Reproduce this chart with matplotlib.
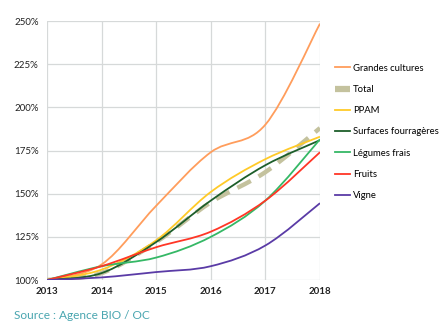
import matplotlib
matplotlib.use("Agg")
import matplotlib.pyplot as plt
import numpy as np
from matplotlib.path import Path
from matplotlib.patches import PathPatch
from matplotlib.lines import Line2D
from matplotlib.ticker import FuncFormatter

# Evolution des surfaces bio par filiere (base 100% en 2013)
years = [2013, 2014, 2015, 2016, 2017, 2018]

grandes_cultures = [1.00, 1.09, 1.43, 1.74, 1.90, 2.485]
total = [1.00, 1.04, 1.22, 1.45, 1.625, 1.88]
ppam = [1.00, 1.06, 1.23, 1.51, 1.70, 1.83]
surfaces_fourrageres = [1.00, 1.04, 1.22, 1.46, 1.665, 1.81]
legumes_frais = [1.00, 1.08, 1.13, 1.25, 1.46, 1.815]
fruits = [1.00, 1.08, 1.19, 1.28, 1.46, 1.74]
vigne = [1.00, 1.015, 1.046, 1.08, 1.20, 1.445]

series = [
    ("Grandes cultures", grandes_cultures, "#ff9d5c"),
    ("Total", total, "#c4c29e"),
    ("PPAM", ppam, "#ffca28"),
    ("Surfaces fourragères", surfaces_fourrageres, "#1d5e2a"),
    ("Légumes frais", legumes_frais, "#35b866"),
    ("Fruits", fruits, "#ff3626"),
    ("Vigne", vigne, "#5a3ba6"),
]

plt.rcParams["font.family"] = ["Lato", "DejaVu Sans"]


def smooth_path(x, y):
    # cubic bezier segments through every point (spreadsheet-style smoothed line)
    x = np.asarray(x, float)
    y = np.asarray(y, float)
    px = np.concatenate([[x[0]], x, [x[-1]]])
    py = np.concatenate([[y[0]], y, [y[-1]]])
    verts = [(x[0], y[0])]
    codes = [Path.MOVETO]
    for i in range(len(x) - 1):
        j = i + 1
        c1 = (px[j] + (px[j + 1] - px[j - 1]) / 6, py[j] + (py[j + 1] - py[j - 1]) / 6)
        c2 = (px[j + 1] - (px[j + 2] - px[j]) / 6, py[j + 1] - (py[j + 2] - py[j]) / 6)
        verts += [c1, c2, (x[j], y[j])]
        codes += [Path.CURVE4] * 3
    return Path(verts, codes)


fig = plt.figure(figsize=(4.41, 3.32), dpi=100)
ax = fig.add_axes([0.1066, 0.1566, 0.6190, 0.7801])

handles = []
for name, vals, col in series:
    if name == "Total":
        patch = PathPatch(smooth_path(years, vals), facecolor="none", edgecolor=col,
                          lw=3.2, linestyle=(0, (3.4, 2.0)), capstyle="butt", zorder=2)
        handles.append(Line2D([], [], color=col, lw=4.5, solid_capstyle="butt"))
    else:
        patch = PathPatch(smooth_path(years, vals), facecolor="none", edgecolor=col,
                          lw=1.3, zorder=3)
        handles.append(Line2D([], [], color=col, lw=1.3))
    ax.add_patch(patch)

ax.set_xlim(2013, 2018)
ax.set_ylim(1.0, 2.5)
ax.set_xticks(years)
ax.set_yticks(np.arange(1.0, 2.51, 0.25))
ax.yaxis.set_major_formatter(FuncFormatter(lambda v, p: f"{v * 100:.0f}%"))
ax.grid(True, color="#d6d9d9", lw=0.9)
ax.set_axisbelow(True)
for s in ax.spines.values():
    s.set_visible(False)
ax.tick_params(length=0, labelsize=7, colors="#222222")
ax.tick_params(axis="x", pad=5)
ax.tick_params(axis="y", pad=6)
for lab in ax.get_xticklabels():
    lab.set_fontweight("bold")

ax.legend(handles, [s[0] for s in series], loc="upper left", bbox_to_anchor=(1.04, 0.85),
          frameon=False, fontsize=6.8, handlelength=1.6, handletextpad=0.3,
          labelspacing=1.3, borderaxespad=0)

fig.text(0.032, 0.04, "Source : Agence BIO / OC", color="#4aa6b0", fontsize=8.6)

fig.savefig("out.png", dpi=100)
